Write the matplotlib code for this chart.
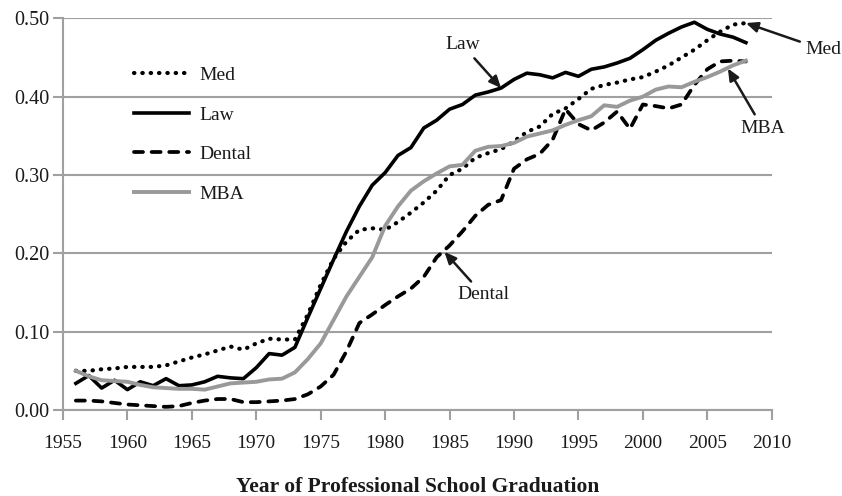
import matplotlib
matplotlib.use('Agg')
import matplotlib.pyplot as plt
import numpy as np

plt.rcParams['font.family'] = ['Liberation Serif', 'DejaVu Serif']

# share of graduates who are women, by year of graduation
years = list(range(1956, 2009))

med = [0.050, 0.050, 0.052, 0.053, 0.055, 0.055, 0.055, 0.057, 0.062, 0.067,
       0.071, 0.076, 0.081, 0.077, 0.085, 0.091, 0.090, 0.090, 0.122, 0.160,
       0.193, 0.215, 0.230, 0.232, 0.230, 0.240, 0.252, 0.265, 0.280, 0.300,
       0.308, 0.322, 0.328, 0.333, 0.343, 0.355, 0.362, 0.378, 0.385, 0.397,
       0.410, 0.415, 0.418, 0.422, 0.425, 0.432, 0.440, 0.450, 0.460, 0.472,
       0.483, 0.492, 0.494]

law = [0.034, 0.044, 0.028, 0.038, 0.026, 0.036, 0.031, 0.040, 0.031, 0.032,
       0.036, 0.043, 0.041, 0.040, 0.054, 0.072, 0.070, 0.080, 0.118, 0.155,
       0.192, 0.228, 0.260, 0.287, 0.303, 0.325, 0.335, 0.360, 0.370, 0.384,
       0.390, 0.402, 0.406, 0.411, 0.422, 0.430, 0.428, 0.424, 0.431, 0.426,
       0.435, 0.438, 0.443, 0.449, 0.460, 0.472, 0.481, 0.489, 0.495, 0.486,
       0.480, 0.476, 0.469]

dental = [0.012, 0.012, 0.011, 0.009, 0.007, 0.006, 0.005, 0.004, 0.005, 0.009,
          0.012, 0.014, 0.014, 0.010, 0.010, 0.011, 0.012, 0.014, 0.020, 0.030,
          0.045, 0.075, 0.111, 0.122, 0.134, 0.145, 0.155, 0.170, 0.195, 0.210,
          0.228, 0.248, 0.262, 0.268, 0.308, 0.320, 0.327, 0.345, 0.384, 0.365,
          0.357, 0.367, 0.381, 0.359, 0.390, 0.388, 0.385, 0.390, 0.415, 0.435,
          0.445, 0.446, 0.445]

mba = [0.050, 0.043, 0.038, 0.037, 0.036, 0.032, 0.029, 0.028, 0.027, 0.027,
       0.026, 0.030, 0.034, 0.035, 0.036, 0.039, 0.040, 0.048, 0.065, 0.085,
       0.115, 0.145, 0.170, 0.195, 0.235, 0.260, 0.280, 0.292, 0.302, 0.311,
       0.313, 0.331, 0.336, 0.337, 0.341, 0.349, 0.353, 0.357, 0.364, 0.370,
       0.375, 0.389, 0.387, 0.395, 0.400, 0.409, 0.413, 0.412, 0.419, 0.425,
       0.432, 0.440, 0.446]

fig = plt.figure(figsize=(8.42, 4.96), dpi=100)
ax = fig.add_axes([0.0748, 0.1734, 0.8417, 0.7896])

grey = '#a0a0a0'
ink = '#1a1a1a'

ax.plot(years, med, color='black', lw=3.0, dashes=(0.1, 1.9),
        dash_capstyle='round', label='Med')
ax.plot(years, law, color='black', lw=2.6, solid_joinstyle='round', label='Law')
ax.plot(years, dental, color='black', lw=2.7, dashes=(2.4, 2.3),
        dash_capstyle='round', label='Dental')
ax.plot(years, mba, color='#999999', lw=2.8, label='MBA')

ax.set_xlim(1955, 2010)
ax.set_ylim(0, 0.5)
ax.set_xticks(np.arange(1955, 2011, 5))
ax.set_yticks(np.arange(0, 0.51, 0.1))
ax.set_yticklabels(['%.2f' % v for v in np.arange(0, 0.51, 0.1)])
ax.yaxis.grid(True, color=grey, lw=1.5)
ax.set_axisbelow(True)

for s in ['top', 'right']:
    ax.spines[s].set_visible(False)
for s in ['left', 'bottom']:
    ax.spines[s].set_color(grey)
    ax.spines[s].set_linewidth(1.5)
ax.tick_params(axis='both', colors=grey, width=1.5, length=7, labelsize=14,
               labelcolor=ink)
ax.tick_params(axis='x', pad=11)
ax.tick_params(axis='y', pad=3, labelsize=14.5)

leg = ax.legend(loc='upper left', bbox_to_anchor=(0.1, 0.877), frameon=False,
                fontsize=14, handlelength=2.85, handletextpad=0.5,
                labelspacing=1.13, borderaxespad=0, borderpad=0)
for t in leg.get_texts():
    t.set_color(ink)

arrow = dict(arrowstyle='-|>,head_length=0.5,head_width=0.22', color=ink,
             lw=1.8, shrinkA=2, shrinkB=0)

ax.annotate('Law', xy=(years[33], law[33]), xytext=(1986.0, 0.466),
            ha='center', va='center', fontsize=14, color=ink,
            arrowprops=arrow)
ax.annotate('Med', xy=(years[52], med[52]), xytext=(2014.0, 0.460),
            ha='center', va='center', fontsize=14, color=ink,
            arrowprops=arrow, annotation_clip=False)
ax.annotate('MBA', xy=(2006.6, 0.436), xytext=(2009.3, 0.360),
            ha='center', va='center', fontsize=14, color=ink,
            arrowprops=arrow, annotation_clip=False)
ax.annotate('Dental', xy=(1984.6, 0.202), xytext=(1987.6, 0.147),
            ha='center', va='center', fontsize=14, color=ink,
            arrowprops=arrow)

fig.text(0.4955, 0.019, 'Year of Professional School Graduation', ha='center',
         va='center', fontsize=15.5, fontweight='bold', color=ink)

fig.savefig('out.png', dpi=100)
